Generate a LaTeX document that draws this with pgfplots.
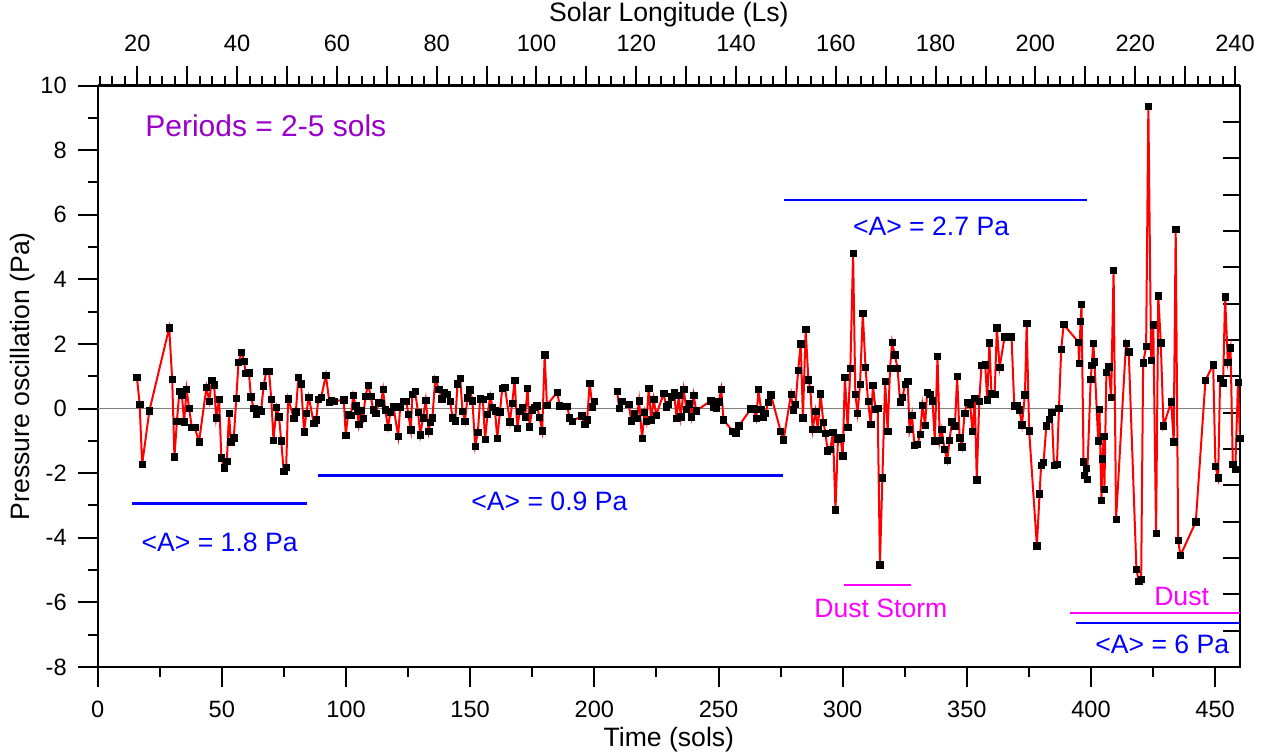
\documentclass[border=0pt]{standalone}
\usepackage{pgfplots}
\pgfplotsset{compat=1.18}
\usepackage{fontspec}
\setmainfont{Liberation Sans}
\definecolor{purp}{RGB}{153,0,204}
\definecolor{mag}{RGB}{255,0,255}

\pgfplotstableread{
x y
15.8 0.97
16.9 0.13
17.9 -1.73
20.8 -0.07
28.8 2.50
30.0 0.90
30.9 -1.49
31.9 -0.39
32.9 0.53
33.9 0.41
34.8 -0.41
35.8 0.59
36.8 0.01
37.9 -0.58
39.1 -0.58
40.8 -1.03
43.8 0.66
44.9 0.23
46.0 0.88
46.9 0.73
47.7 -0.29
48.9 0.29
49.8 -1.53
50.9 -1.84
52.0 -1.63
52.9 -0.14
53.6 -1.03
54.8 -0.91
55.8 0.31
56.7 1.43
57.9 1.74
59.0 1.47
59.5 1.09
60.9 1.11
61.7 0.37
62.8 0.00
63.8 -0.18
64.8 -0.04
65.8 -0.08
66.8 0.70
67.9 1.15
69.0 1.15
69.9 0.29
70.8 -0.98
72.0 0.04
73.0 -0.25
73.9 -1.00
74.9 -1.94
75.9 -1.82
76.7 0.30
79.0 -0.31
79.8 -0.10
80.8 0.96
81.9 0.77
83.1 -0.72
84.0 -0.15
85.0 0.35
87.0 -0.45
88.0 -0.35
88.8 0.28
90.0 0.35
91.9 1.03
93.3 0.19
94.0 0.24
95.2 0.23
99.1 0.27
99.9 -0.82
100.8 -0.19
102.0 -0.21
102.9 0.41
103.9 0.08
104.5 -0.07
105.1 -0.48
105.9 -0.06
106.9 -0.31
107.8 0.38
108.9 0.72
110.0 0.38
110.9 -0.04
112.0 -0.15
113.2 0.19
114.1 0.17
114.9 0.59
115.8 -0.04
116.9 -0.58
117.9 -0.10
119.1 0.06
121.0 -0.86
121.8 0.05
123.3 0.22
124.3 0.22
125.1 -0.18
126.1 -0.66
126.7 0.44
127.8 0.54
129.0 -0.12
129.9 -0.81
131.0 -0.28
132.1 0.26
133.3 -0.70
133.9 -0.43
134.8 -0.28
135.9 0.91
137.4 0.60
138.6 0.30
139.6 0.50
140.8 0.45
141.9 0.22
142.9 -0.28
144.0 -0.38
144.9 0.77
146.0 0.93
146.9 -0.09
147.9 -0.39
148.9 0.33
149.9 0.58
150.9 0.24
152.0 -1.16
153.1 -0.73
154.0 0.30
155.1 0.28
156.0 -0.95
157.0 -0.17
158.1 0.38
159.0 0.03
160.0 -0.07
160.9 -0.92
162.0 -0.10
162.9 0.63
164.0 0.65
166.0 -0.41
166.9 0.16
167.9 0.87
169.0 -0.62
169.9 -0.09
171.0 0.03
172.1 -0.25
173.1 0.62
173.9 -0.56
174.9 -0.04
175.9 0.03
176.9 0.09
177.9 -0.27
179.0 -0.69
180.0 1.67
180.9 0.11
185.1 0.51
186.0 0.08
187.1 0.07
188.2 0.07
189.1 0.07
190.0 -0.28
191.1 -0.39
194.9 -0.23
196.1 -0.48
197.1 -0.35
198.1 0.79
199.2 0.06
200.0 0.22
204.0 nan
209.2 0.53
210.0 0.00
211.0 0.22
213.8 0.14
214.9 -0.38
216.0 -0.14
217.1 -0.31
218.0 0.24
219.2 -0.93
220.2 -0.12
221.0 -0.40
221.9 0.62
222.9 -0.35
223.9 0.29
224.9 -0.20
227.9 0.47
228.9 0.06
229.8 0.14
231.0 0.36
232.1 0.51
233.1 -0.31
234.0 0.41
234.8 -0.25
236.0 0.59
237.0 -0.02
238.2 0.15
239.1 -0.25
240.0 0.41
241.0 -0.07
246.9 0.24
248.0 0.05
249.1 0.01
250.1 0.21
251.1 0.60
252.0 -0.35
255.8 -0.71
257.0 -0.76
258.2 -0.54
263.0 -0.01
264.1 -0.01
265.2 -0.31
266.1 0.60
267.1 -0.03
268.0 -0.26
268.9 -0.15
270.0 0.19
271.1 0.43
275.0 -0.70
276.2 -0.97
279.2 0.44
280.0 -0.04
281.0 0.13
282.1 1.19
283.1 2.01
284.0 -0.28
285.1 2.45
286.2 0.89
287.0 0.60
287.9 -0.65
289.1 -0.08
290.0 -0.65
291.1 0.46
292.2 -0.43
293.1 -0.76
293.9 -1.31
295.0 -1.27
296.1 -0.74
297.1 -3.14
298.1 -0.95
299.2 -0.90
300.0 -1.46
300.9 0.97
302.0 -0.58
303.1 1.25
304.2 4.81
305.1 0.44
306.0 -0.14
307.0 0.75
308.1 2.94
309.2 1.28
310.2 0.23
311.3 -0.48
312.2 0.72
313.2 -0.02
314.1 0.01
315.0 -4.84
316.0 -2.14
317.1 0.85
318.1 -0.70
319.1 1.25
319.9 2.06
321.0 1.66
322.1 1.25
323.1 0.21
324.1 0.35
325.1 0.75
326.2 0.85
326.9 -0.65
327.9 -0.20
328.9 -1.14
330.1 -1.11
331.2 -0.79
332.1 0.11
333.2 -0.51
334.0 0.50
335.1 0.45
336.2 0.24
337.1 -1.00
338.2 1.61
339.1 -0.99
339.9 -0.65
341.0 -1.26
342.1 -1.60
343.0 -0.99
344.0 -0.41
345.2 -0.54
346.1 0.99
347.1 -0.90
348.0 -1.18
349.1 -0.14
350.1 0.19
351.3 0.13
352.3 -0.71
353.2 0.31
354.0 -2.20
355.0 0.23
355.9 1.34
357.4 1.36
358.2 0.27
359.1 2.04
359.9 0.48
361.2 0.44
362.1 2.50
363.2 1.27
365.2 2.22
368.0 2.22
369.1 0.08
370.2 0.10
371.2 -0.04
372.2 -0.50
373.4 0.43
374.1 2.63
375.1 -0.69
378.2 -4.25
379.3 -2.64
379.9 -1.75
380.9 -1.67
382.0 -0.54
383.1 -0.34
384.2 -0.12
385.1 -1.76
386.3 -1.72
387.1 0.01
388.0 1.83
389.0 2.60
394.9 2.06
395.2 1.41
395.8 2.70
396.2 3.23
397.0 -1.65
397.4 -2.07
398.1 -1.85
398.4 -2.19
399.9 0.91
400.3 1.33
400.9 2.02
401.4 1.45
402.9 -1.00
403.4 -0.02
404.2 -2.84
404.6 -1.55
405.1 -0.85
405.4 -2.50
406.2 1.12
407.1 1.29
408.1 0.35
409.1 4.28
410.1 -3.43
414.1 2.02
415.2 1.76
418.3 -4.98
419.2 -5.34
420.2 -5.29
421.0 1.42
422.2 1.92
423.1 9.35
424.2 1.49
425.1 2.59
426.2 -3.87
427.1 3.49
428.1 2.04
429.2 -0.54
432.3 0.21
433.3 -1.03
434.1 5.55
435.1 -4.08
436.0 -4.55
442.2 -3.51
446.1 0.88
449.2 1.36
450.1 -1.78
451.2 -2.14
452.0 0.93
453.2 0.80
454.0 3.46
455.1 1.44
456.2 1.88
457.1 -1.72
458.1 -1.88
459.2 0.82
460.0 -0.93
}\osc

\begin{document}
\begin{tikzpicture}
\pgfplotsset{
  common/.style={
    scale only axis, width=571.15pt, height=290.75pt,
    at={(0,0)}, anchor=south west,
    axis line style={-, line width=1pt, black},
    every tick/.style={black, line width=1pt},
    tick label style={font=\fontsize{11.8}{14}\selectfont},
    label style={font=\fontsize{13.3}{16}\selectfont},
    /pgf/number format/assume math mode=true,
  }
}
% top axis: solar longitude
\begin{axis}[common,
  xmin=12.06, xmax=241, ymin=0, ymax=1,
  axis x line*=top, hide y axis,
  tick align=outside, major tick length=9.5pt, minor tick length=4.5pt,
  xtick={20,30,...,240},
  xticklabels={20,,40,,60,,80,,100,,120,,140,,160,,180,,200,,220,,240},
  xticklabel shift=4pt,
  minor xtick={12.5,15,...,240},
  xlabel={Solar Longitude (Ls)},
  xlabel style={at={(axis description cs:0.5,1.1222)}, anchor=center},
]
\end{axis}
% right axis: unlabeled inward ticks
\begin{axis}[common,
  xmin=0, xmax=1, ymin=0, ymax=16,
  axis y line*=right, hide x axis,
  tick align=inside, major tick length=8.5pt,
  ytick={0,1,...,16}, yticklabels={},
]
\end{axis}
% main axis
\begin{axis}[common,
  xmin=0, xmax=460, ymin=-8, ymax=10,
  tick pos=left, tick align=outside,
  major tick length=10pt, minor tick length=5pt,
  xtick={0,50,...,450}, minor x tick num=1,
  ytick={-8,-6,...,10}, minor y tick num=1,
  yticklabels={-8,-6,-4,-2,0,2,4,6,8,10},
  xticklabel shift=3.5pt,
  yticklabel shift=2pt,
  xlabel={Time (sols)},
  ylabel={Pressure oscillation (Pa)},
  xlabel style={at={(axis description cs:0.5,-0.1256)}, anchor=center},
  ylabel style={at={(axis description cs:-0.0656,0.5)}, anchor=center},
  unbounded coords=jump,
]
\addplot[gray, line width=0.6pt, forget plot] coordinates {(0,0) (460,0)};
\addplot[red, line width=1pt, mark=square*, mark size=1.6pt,
  mark options={black, solid, line width=0.3pt}] table[x=x, y=y] {\osc};

\addplot[blue, line width=1.2pt, no marks] coordinates {(14.0,-2.94) (84.2,-2.94)};
\addplot[blue, line width=1.2pt, no marks] coordinates {(88.7,-2.07) (275.9,-2.07)};
\addplot[blue, line width=1.2pt, no marks] coordinates {(276.3,6.45) (398.2,6.45)};
\addplot[mag, line width=1.2pt, no marks] coordinates {(300.5,-5.47) (327.6,-5.47)};
\addplot[mag, line width=1.2pt, no marks] coordinates {(391.7,-6.32) (460,-6.32)};
\addplot[blue, line width=1.2pt, no marks] coordinates {(394.0,-6.63) (460,-6.63)};

\node[text=purp, font=\fontsize{15}{18}\selectfont] at (axis cs:67.7,8.74) {Periods = 2-5 sols};
\node[text=blue, font=\fontsize{13.3}{16}\selectfont] at (axis cs:49.1,-4.14) {<A> = 1.8 Pa};
\node[text=blue, font=\fontsize{13.3}{16}\selectfont] at (axis cs:181.9,-2.87) {<A> = 0.9 Pa};
\node[text=blue, font=\fontsize{13.3}{16}\selectfont] at (axis cs:335.6,5.65) {<A> = 2.7 Pa};
\node[text=mag, font=\fontsize{13.3}{16}\selectfont] at (axis cs:315.4,-6.19) {Dust Storm};
\node[text=mag, font=\fontsize{13.3}{16}\selectfont] at (axis cs:436.5,-5.83) {Dust};
\node[text=blue, font=\fontsize{13.3}{16}\selectfont] at (axis cs:428.7,-7.3) {<A> = 6 Pa};
\end{axis}
\pgfresetboundingbox
\useasboundingbox (-48.85pt,-44.5pt) rectangle (584.15pt,333.5pt);
\end{tikzpicture}
\end{document}
